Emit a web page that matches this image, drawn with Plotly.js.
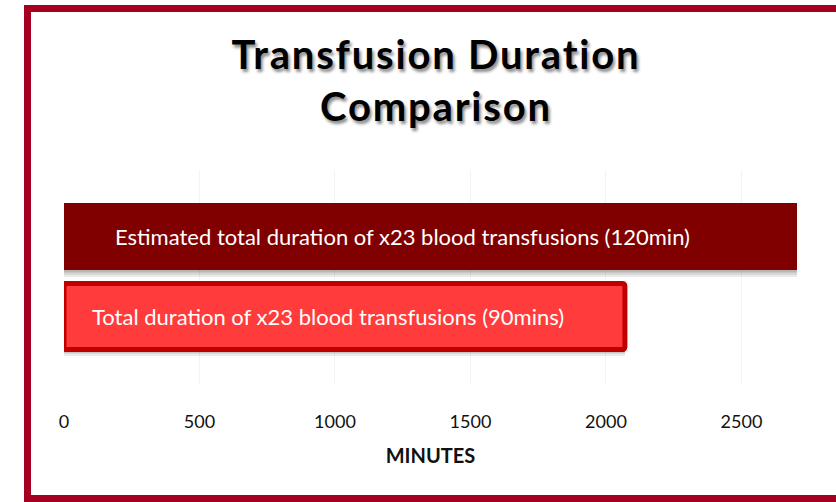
<!DOCTYPE html>
<html>
<head>
<meta charset="utf-8">
<script src="https://cdn.plot.ly/plotly-3.0.1.min.js"></script>
<style>
  html, body { margin: 0; padding: 0; background: #ffffff; width: 836px; height: 502px; overflow: hidden; }
  #frame { position: absolute; left: 24px; top: 5px; width: 900px; height: 483px; border: 7px solid #A50021; box-sizing: content-box; }
  #chart { position: absolute; left: 0; top: 0; width: 836px; height: 502px; }
  #chart .gtitle { letter-spacing: 1.8px; }
</style>
</head>
<body>
<div id="frame"></div>
<div id="chart"></div>
<script>
const categories = ['Estimated', 'Actual'];
const totalMinutes = [2760, 2070];
const barLabels = [
  'Estimated total duration of x23 blood transfusions (120min)',
  'Total duration of x23 blood transfusions (90mins)'
];
const tickValues = [0, 500, 1000, 1500, 2000, 2500];
const tickLabels = ['0', '500', '1000', '1500', '2000', '2500'];

const barWidths = [0.84, 0.825];
const barColors = ['#800000', '#FF3B3B'];
const lineColors = ['#800000', '#C00000'];
const lineWidths = [0, 5];

const traces = [];
// soft shadow layers
const shadowSteps = [0.02, 0.04, 0.06, 0.08];
shadowSteps.forEach(function (s) {
  traces.push({
    type: 'bar', orientation: 'h',
    x: totalMinutes, y: categories,
    width: barWidths,
    offset: barWidths.map(function (w) { return -w / 2 + s; }),
    marker: { color: 'rgba(0,0,0,0.08)', line: { width: 0 } },
    hoverinfo: 'skip', showlegend: false
  });
});
traces.push({
  type: 'bar', orientation: 'h',
  x: totalMinutes, y: categories,
  width: barWidths,
  marker: { color: barColors, line: { color: lineColors, width: lineWidths }, cornerradius: 3 },
  showlegend: false
});

const annotations = categories.map(function (c, i) {
  return {
    xref: 'paper', yref: 'y', x: [49, 26][i] / 733, y: c,
    xanchor: 'left', yanchor: 'middle', showarrow: false,
    text: barLabels[i],
    font: { family: 'Lato, sans-serif', size: 22, color: '#ffffff' }
  };
});

const layout = {
  width: 836, height: 502,
  margin: { l: 64, r: 39, t: 170, b: 117 },
  paper_bgcolor: 'rgba(0,0,0,0)',
  plot_bgcolor: 'rgba(0,0,0,0)',
  barmode: 'overlay',
  bargap: 0,
  title: {
    text: 'Transfusion Duration<br>Comparison',
    x: 0.5215, xanchor: 'center',
    y: 0.862, yanchor: 'top',
    font: { family: 'Lato, sans-serif', size: 40, weight: 700, color: '#000000', shadow: '2px 3px 3px rgba(0,0,0,0.45)' }
  },
  xaxis: {
    range: [0, 2705],
    tickvals: tickValues, ticktext: tickLabels,
    showgrid: true, gridcolor: '#f3f3f3', gridwidth: 1,
    zeroline: false, showline: false,
    ticks: '', ticklabelstandoff: 24,
    tickfont: { family: 'Lato, sans-serif', size: 18, color: '#111111' },
    title: { text: '<b>MINUTES</b>', standoff: 17, font: { family: 'Lato, sans-serif', size: 20, color: '#111111' } },
    fixedrange: true
  },
  yaxis: {
    type: 'category',
    range: [1.856, -0.831],
    showticklabels: false, showgrid: false, zeroline: false, showline: false, ticks: '',
    fixedrange: true
  },
  annotations: annotations
};

Plotly.newPlot('chart', traces, layout, { displayModeBar: false, staticPlot: true });
</script>
</body>
</html>
